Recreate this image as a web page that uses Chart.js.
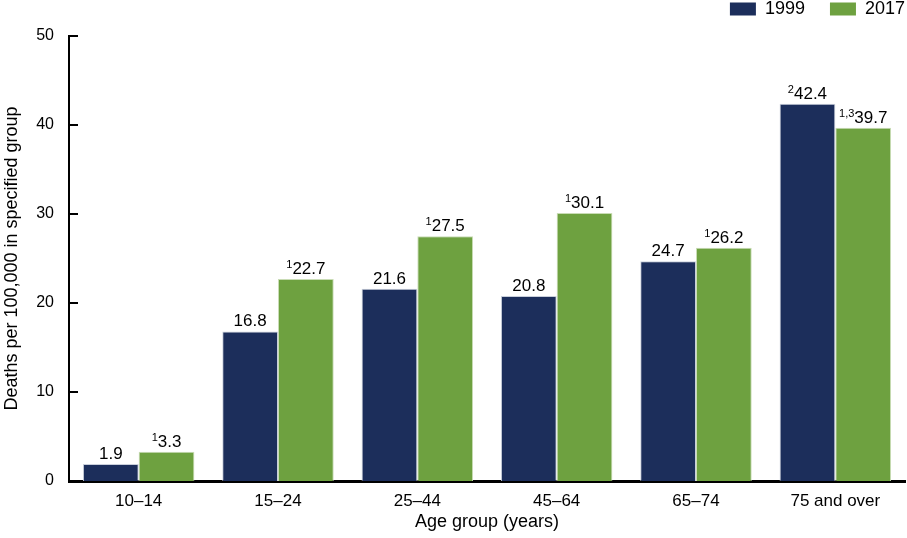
<!DOCTYPE html>
<html>
<head>
<meta charset="utf-8">
<script src="https://cdn.jsdelivr.net/npm/chart.js@4"></script>
<style>
  html, body { margin: 0; padding: 0; background: #fff; }
  #wrap { width: 907px; height: 538px; }
</style>
</head>
<body>
<div id="wrap"><canvas id="chart"></canvas></div>
<script>
const categories = ['10\u201314', '15\u201324', '25\u201344', '45\u201364', '65\u201374', '75 and over'];
const values1999 = [1.9, 16.8, 21.6, 20.8, 24.7, 42.4];
const values2017 = [3.3, 22.7, 27.5, 30.1, 26.2, 39.7];
const notes1999 = ['', '', '', '', '', '2'];
const notes2017 = ['1', '1', '1', '1', '1', '1,3'];
const yTicks = [0, 10, 20, 30, 40, 50];

const NAVY = '#1c2e5b';
const GREEN = '#6ea140';
const FONT = '"Liberation Sans", Arial, sans-serif';

// value labels with superscript footnotes above each bar
const barLabels = {
    id: 'barLabels',
    afterDatasetsDraw(chart) {
        const c = chart.ctx;
        const notes = [notes1999, notes2017];
        chart.data.datasets.forEach(function(ds, di) {
            chart.getDatasetMeta(di).data.forEach(function(bar, i) {
                const txt = ds.data[i].toFixed(1);
                const sup = notes[di][i];
                c.save();
                c.fillStyle = '#000';
                c.textBaseline = 'alphabetic';
                c.font = '17px ' + FONT;
                const w = c.measureText(txt).width;
                c.font = '11px ' + FONT;
                const sw = sup ? c.measureText(sup).width : 0;
                const x0 = bar.x - (w + sw) / 2;
                const y = bar.y - 5;
                if (sup) {
                    c.fillText(sup, x0, y - 6);
                }
                c.font = '17px ' + FONT;
                c.fillText(txt, x0 + sw, y);
                c.restore();
            });
        });
    }
};

// short tick marks pointing into the plot area
const innerTicks = {
    id: 'innerTicks',
    afterDraw(chart) {
        const c = chart.ctx;
        const y = chart.scales.y;
        c.save();
        c.strokeStyle = '#000';
        c.lineWidth = 2;
        yTicks.forEach(function(v) {
            const py = Math.round(y.getPixelForValue(v));
            c.beginPath();
            c.moveTo(y.right, py);
            c.lineTo(y.right + 9, py);
            c.stroke();
        });
        c.restore();
    }
};

// extra room under the legend
const legendGap = {
    id: 'legendGap',
    beforeInit(chart) {
        const fit = chart.legend.fit;
        chart.legend.fit = function() {
            fit.bind(chart.legend)();
            this.height += 8;
        };
    }
};

new Chart(document.getElementById('chart'), {
    type: 'bar',
    data: {
        labels: categories,
        datasets: [{
            label: '1999',
            data: values1999,
            backgroundColor: NAVY,
            borderColor: '#c9cfdb',
            borderWidth: 1,
            categoryPercentage: 0.8,
            barPercentage: 1.0
        }, {
            label: '2017',
            data: values2017,
            backgroundColor: GREEN,
            borderColor: '#c9dcb5',
            borderWidth: 1,
            categoryPercentage: 0.8,
            barPercentage: 1.0
        }]
    },
    options: {
        responsive: true,
        maintainAspectRatio: false,
        animation: false,
        layout: { padding: { top: 0, right: 2, left: 0, bottom: 0 } },
        plugins: {
            legend: {
                position: 'top',
                align: 'end',
                labels: {
                    boxWidth: 26,
                    boxHeight: 13,
                    padding: 0,
                    color: '#000',
                    font: { family: FONT, size: 18, lineHeight: 1 },
                    generateLabels(chart) {
                        const items = Chart.defaults.plugins.legend.labels.generateLabels(chart);
                        items.forEach(function(it, i) {
                            if (i < items.length - 1) {
                                it.text = it.text + '     ';
                            }
                            it.lineWidth = 0;
                        });
                        return items;
                    }
                }
            },
            tooltip: { enabled: false }
        },
        scales: {
            x: {
                afterFit(scale) {
                    scale.height = 57;
                },
                grid: { display: false, drawTicks: false },
                border: { color: '#000', width: 3 },
                ticks: {
                    color: '#000',
                    padding: 12,
                    font: { family: FONT, size: 17, lineHeight: 1 }
                },
                title: {
                    display: true,
                    text: 'Age group (years)',
                    color: '#000',
                    padding: { top: 2, bottom: 6 },
                    font: { family: FONT, size: 18, lineHeight: 1.1 }
                }
            },
            y: {
                min: 0,
                max: 50,
                afterBuildTicks(scale) {
                    scale.ticks = yTicks.map(function(v) { return { value: v }; });
                },
                afterFit(scale) {
                    scale.width = 69;
                },
                grid: { display: false, drawTicks: false },
                border: { color: '#000', width: 2 },
                ticks: {
                    color: '#000',
                    padding: 15,
                    font: { family: FONT, size: 16 }
                },
                title: {
                    display: true,
                    text: 'Deaths per 100,000 in specified group',
                    color: '#000',
                    padding: { top: 2, bottom: 0 },
                    font: { family: FONT, size: 18, lineHeight: 1.1 }
                }
            }
        }
    },
    plugins: [barLabels, innerTicks, legendGap]
});
</script>
</body>
</html>
